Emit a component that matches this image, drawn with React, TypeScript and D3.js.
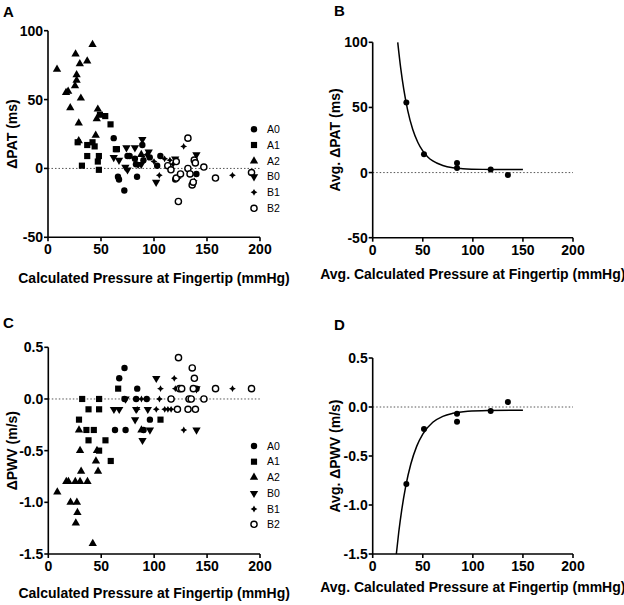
import React from 'react';
import * as d3 from 'd3';

type Pt = [number, number];

const xTicks = [0, 50, 100, 150, 200];
const patTicks = [-50, 0, 50, 100];
const pwvTicks = [-1.5, -1.0, -0.5, 0.0, 0.5];
const seriesNames = ['A0', 'A1', 'A2', 'B0', 'B1', 'B2'];

// Panel A: ΔPAT (ms) vs pressure
const patA0: Pt[] = [[62,22],[66,-6],[67,-8],[72,-16],[75,9],[77,9],[82,7],[83,3],[84,-6],[89,17],[90,6],[96,8],[103,2],[106,9],[120,-8],[140,-4]];
const patA1: Pt[] = [[28,19],[32,2],[37,9],[37,17],[42,19],[44,16],[47,5],[48,9],[48,-1],[49,39],[54,38],[59,32],[64,14],[65,14]];
const patA2: Pt[] = [[8.5,72],[17,55],[19,56],[21,44],[25.5,60],[26,83],[27,64],[27,68],[29,20],[29,33],[30,76],[31,51],[37,78],[42,90],[45,24],[46,36],[47,43],[88,10]];
const patB0: Pt[] = [[62,8],[67,6],[73,1],[74,15],[75,-1],[82,15],[88,3],[89,21],[95,12],[102,-10],[120,7],[140,10]];
const patB1: Pt[] = [[85,2],[93,10],[100,5],[105,-5],[110,7],[115,6],[118,3],[123,-7],[128,16],[138,-9],[174,-5]];
const patB2: Pt[] = [[113,2],[116,-1],[121,5],[121,-7],[123,-24],[125,-4],[132,22],[132,0],[134,-4],[136,-12],[137,-10],[138,6],[139,4],[147,1],[158,-7],[192,-3]];

// Panel B: averages and fitted curve
const avgPressure = [33.6, 51.2, 84.2, 84.2, 117.8, 135];
const avgPat = [53.8, 14.1, 7.4, 3.6, 2.3, -1.8];
const patFit: Pt[] = [[25,100],[28,80],[31,64],[35,47.5],[40,33],[45,23.3],[50,16.6],[55,12],[60,8.9],[70,5.4],[80,3.7],[90,3],[110,2.45],[130,2.33],[150,2.3]];

// Panel C: ΔPWV (m/s) vs pressure
const pwvA0: Pt[] = [[63,-0.3],[67,0.2],[72,0.3],[72,0],[73,-0.3],[83,0],[84,0.1],[90,-0.3],[93,0],[96,-0.2],[116,0],[122,-0.1],[140,0.1]];
const pwvA1: Pt[] = [[29,-0.2],[32,0],[38,-0.1],[36,-0.3],[38,-0.4],[43,-0.3],[48,0],[48,-0.1],[48,-0.5],[54,-0.4],[59,-0.6],[66,0.1],[106,-0.2]];
const pwvA2: Pt[] = [[8.5,-0.9],[17,-0.8],[19,-0.8],[21,-1.0],[25.5,-0.8],[26,-1.2],[27,-1.0],[27.5,-1.1],[29,-0.3],[30,-0.5],[30,-0.8],[31,-0.7],[37,-0.8],[42,-1.4],[45,-0.6],[46,-0.5],[47,-0.7],[88,-0.3]];
const pwvB0: Pt[] = [[62,-0.1],[67,-0.1],[73,0],[82,-0.2],[83,-0.1],[89,-0.4],[94,-0.1],[96,-0.3],[102,0.2],[140,-0.3],[140,0.1]];
const pwvB1: Pt[] = [[84,-0.1],[88,0],[102,-0.1],[105,0],[106,0.1],[110,-0.1],[113,-0.1],[116,-0.1],[119,0.2],[120,0.1],[128,-0.3],[174,0.1]];
const pwvB2: Pt[] = [[116,0],[122,-0.1],[123,0.4],[124,0.1],[126,0.1],[132,-0.1],[133,0],[135,0],[136,0.3],[137,0.1],[138,0.2],[139,-0.1],[147,0],[158,0.1],[192,0.1]];

// Panel D
const avgPwv = [-0.786, -0.224, -0.068, -0.15, -0.041, 0.051];
const pwvFit: Pt[] = [[23.6,-1.5],[26,-1.278],[29,-1.049],[33,-0.807],[38,-0.584],[44,-0.399],[50,-0.276],[60,-0.156],[70,-0.095],[80,-0.064],[95,-0.043],[115,-0.035],[150,-0.032]];

const FONT = '"Liberation Sans", Arial, sans-serif';

const starPath = (() => {
  const pts: [number, number][] = [];
  for (let i = 0; i < 8; i++) {
    const a = (i * Math.PI) / 4 - Math.PI / 2;
    const r = i % 2 === 0 ? 3.4 : 1.7;
    pts.push([r * Math.cos(a), r * Math.sin(a)]);
  }
  return (d3.line()(pts) || '') + 'Z';
})();

const Marker: React.FC<{ kind: number; x: number; y: number }> = ({ kind, x, y }) => {
  if (kind === 0) return <circle cx={x} cy={y} r={3.2} fill="#000" />;
  if (kind === 5) return <circle cx={x} cy={y} r={3.1} fill="#fff" stroke="#000" strokeWidth={1.4} />;
  if (kind === 4) return <path d={starPath} transform={`translate(${x},${y})`} fill="#000" />;
  let sym: d3.SymbolType = d3.symbolSquare;
  let size = 38;
  let rot = 0;
  if (kind === 2) { sym = d3.symbolTriangle; size = 30; }
  if (kind === 3) { sym = d3.symbolTriangle; size = 30; rot = 180; }
  const p = d3.symbol().type(sym).size(size)() || '';
  return <path d={p} transform={`translate(${x},${y}) rotate(${rot})`} fill="#000" />;
};

interface PanelProps {
  letter: string;
  letterPos: [number, number];
  xr: [number, number];
  yr: [number, number];
  ydom: [number, number];
  yTicks: number[];
  fmt: (v: number) => string;
  xTitle: string;
  xTitleY: number;
  yTitle: string;
  yTitleX: number;
  series?: Pt[][];
  avgY?: number[];
  fit?: Pt[];
  legendYs?: number[];
  xTickY: number;
}

const Panel: React.FC<PanelProps> = (p) => {
  const x = d3.scaleLinear().domain([0, 200]).range(p.xr);
  const y = d3.scaleLinear().domain(p.ydom).range(p.yr);
  const line = d3.line<Pt>().x(d => x(d[0])).y(d => y(d[1])).curve(d3.curveMonotoneX);
  const x0 = p.xr[0];
  const yb = p.yr[0];
  return (
    <g fontFamily={FONT}>
      <text x={p.letterPos[0]} y={p.letterPos[1]} fontSize={15} fontWeight="bold">{p.letter}</text>
      <line x1={x(0)} x2={x(200)} y1={y(0)} y2={y(0)} stroke="#555" strokeWidth={1} strokeDasharray="1.5,2" />
      <line x1={x0} x2={x0} y1={p.yr[0]} y2={p.yr[1]} stroke="#000" strokeWidth={1.6} />
      <line x1={x0} x2={p.xr[1]} y1={yb} y2={yb} stroke="#000" strokeWidth={1.6} />
      {p.yTicks.map(t => (
        <g key={'y' + t}>
          <line x1={x0 - 4} x2={x0} y1={y(t)} y2={y(t)} stroke="#000" strokeWidth={1.6} />
          <text x={x0 - 5} y={y(t)} dy="0.36em" textAnchor="end" fontSize={14} fontWeight="bold">{p.fmt(t)}</text>
        </g>
      ))}
      {xTicks.map(t => (
        <g key={'x' + t}>
          <line x1={x(t)} x2={x(t)} y1={yb} y2={yb + 4} stroke="#000" strokeWidth={1.6} />
          <text x={x(t)} y={p.xTickY} dy="0.36em" textAnchor="middle" fontSize={14} fontWeight="bold">{t}</text>
        </g>
      ))}
      <text x={(p.xr[0] + p.xr[1]) / 2} y={p.xTitleY} dy="0.36em" textAnchor="middle" fontSize={14} fontWeight="bold">{p.xTitle}</text>
      <text transform={`translate(${p.yTitleX},${(p.yr[0] + p.yr[1]) / 2}) rotate(-90)`} dy="0.36em" textAnchor="middle" fontSize={14} fontWeight="bold">{p.yTitle}</text>
      {p.fit && <path d={line(p.fit) || ''} fill="none" stroke="#000" strokeWidth={1.5} />}
      {p.avgY && p.avgY.map((v, i) => (
        <circle key={'a' + i} cx={x(avgPressure[i])} cy={y(v)} r={3} fill="#000" />
      ))}
      {p.series && p.series.map((s, k) => s.map((d, i) => (
        <Marker key={k + '-' + i} kind={k} x={x(d[0])} y={y(d[1])} />
      )))}
      {p.legendYs && p.legendYs.map((ly, k) => (
        <g key={'l' + k}>
          <Marker kind={k} x={254} y={ly} />
          <text x={267} y={ly} dy="0.36em" fontSize={10.5}>{seriesNames[k]}</text>
        </g>
      ))}
    </g>
  );
};

const fmtInt = (v: number) => String(v);
const fmt1 = (v: number) => v.toFixed(1);

export default function App() {
  return (
    <svg width={624} height={605} style={{ position: 'absolute', left: 0, top: 0, background: '#fff' }}>
      <rect width={624} height={605} fill="#fff" />
      <Panel letter="A" letterPos={[3, 17]} xr={[48, 260]} yr={[237.3, 30.7]} ydom={[-50, 100]} yTicks={patTicks} fmt={fmtInt}
        xTitle="Calculated Pressure at Fingertip (mmHg)" xTitleY={278} yTitle="ΔPAT (ms)" yTitleX={12}
        series={[patA0, patA1, patA2, patB0, patB1, patB2]} legendYs={[129.3, 145, 161, 176.7, 192.3, 208.3]} xTickY={249} />
      <Panel letter="B" letterPos={[334, 16]} xr={[372.7, 573]} yr={[237.7, 42.3]} ydom={[-50, 100]} yTicks={patTicks} fmt={fmtInt}
        xTitle="Avg. Calculated Pressure at Fingertip (mmHg)" xTitleY={274} yTitle="Avg. ΔPAT (ms)" yTitleX={334.5}
        avgY={avgPat} fit={patFit} xTickY={250} />
      <Panel letter="C" letterPos={[3, 328]} xr={[48.3, 260]} yr={[554, 347.3]} ydom={[-1.5, 0.5]} yTicks={pwvTicks} fmt={fmt1}
        xTitle="Calculated Pressure at Fingertip (mmHg)" xTitleY={593} yTitle="ΔPWV (m/s)" yTitleX={12}
        series={[pwvA0, pwvA1, pwvA2, pwvB0, pwvB1, pwvB2]} legendYs={[446, 461.7, 477.3, 493.3, 509, 524.3]} xTickY={566} />
      <Panel letter="D" letterPos={[334, 330]} xr={[372.7, 573]} yr={[554, 358]} ydom={[-1.5, 0.5]} yTicks={pwvTicks} fmt={fmt1}
        xTitle="Avg. Calculated Pressure at Fingertip (mmHg)" xTitleY={587} yTitle="Avg. ΔPWV (m/s)" yTitleX={334.5}
        avgY={avgPwv} fit={pwvFit} xTickY={566} />
    </svg>
  );
}
